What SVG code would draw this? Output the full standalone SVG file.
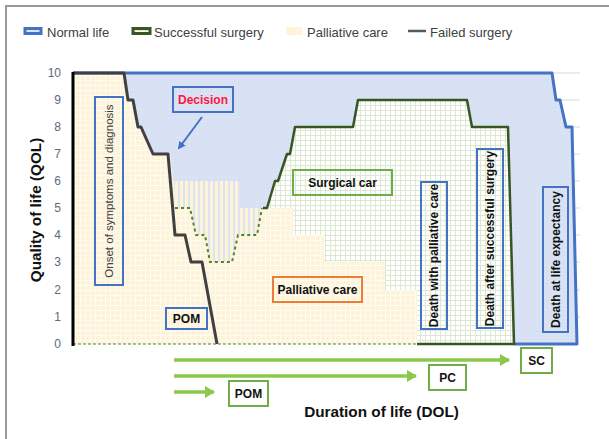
<svg xmlns="http://www.w3.org/2000/svg" width="609" height="439" viewBox="0 0 609 439">
<style>
  text { font-family: "Liberation Sans", Arial, sans-serif; }
  .leg { font-size: 13px; fill: #404040; }
  .tick { font-size: 12px; fill: #5b6b80; text-anchor: end; }
  .lbl { font-size: 12px; font-weight: bold; fill: #111; text-anchor: middle; dominant-baseline: central; }
  .axt { font-size: 15.3px; font-weight: bold; fill: #111; text-anchor: middle; }
  .bbox { fill: none; stroke: #4472C4; stroke-width: 2; }
  .gbox { fill: #fff; stroke: #70AD47; stroke-width: 2; }
  .grid { stroke: #D9D9D9; stroke-width: 1; }
  .garrow { stroke: #8CC84B; stroke-width: 3.5; fill: none; }
</style>
<defs>
  <pattern id="pBeige" width="5" height="5" patternUnits="userSpaceOnUse">
    <rect width="5" height="5" fill="#FCF3DA"/>
    <path d="M0,0.5 H5 M0.5,0 V5" stroke="#FFFBEF" stroke-width="1"/>
  </pattern>
  <pattern id="pGreen" width="5" height="5" patternUnits="userSpaceOnUse">
    <rect width="5" height="5" fill="#FFFFFF"/>
    <path d="M0,0.5 H5 M0.5,0 V5" stroke="#DCE8D2" stroke-width="1"/>
  </pattern>
  <pattern id="pBlue" width="4" height="4" patternUnits="userSpaceOnUse">
    <rect width="4" height="4" fill="#D7E1F3"/>
    <rect x="1" y="1" width="1" height="1" fill="#E6ECF8"/>
  </pattern>
  <pattern id="pStripe" width="5" height="5" patternUnits="userSpaceOnUse">
    <rect width="5" height="5" fill="#DCE4F3"/>
    <rect width="3" height="5" fill="#FDF4D8"/>
  </pattern>
  <marker id="mBlue" markerWidth="8" markerHeight="8" refX="6" refY="4" orient="auto" markerUnits="userSpaceOnUse">
    <path d="M0,0 L8,4 L0,8 Z" fill="#4472C4"/>
  </marker>
  <marker id="mGreen" markerWidth="10" markerHeight="12" refX="9" refY="6" orient="auto" markerUnits="userSpaceOnUse">
    <path d="M0,0 L10,6 L0,12 Z" fill="#8CC84B"/>
  </marker>
</defs>

<!-- frame -->
<g id="frame">
  <line x1="5" y1="6" x2="609" y2="6" stroke="#9A9A9A" stroke-width="2"/>
  <line x1="6" y1="5" x2="6" y2="439" stroke="#9A9A9A" stroke-width="2"/>
</g>

<!-- legend -->
<g id="legend">
  <rect x="25" y="28.5" width="16" height="5" fill="#DCE4F4" stroke="#4472C4" stroke-width="3"/>
  <text class="leg" x="47" y="37">Normal life</text>
  <rect x="133" y="28.5" width="17" height="5" fill="url(#pGreen)" stroke="#375623" stroke-width="3"/>
  <text class="leg" x="154" y="37">Successful surgery</text>
  <rect x="286" y="27" width="16" height="8" fill="#FFF4D6"/>
  <text class="leg" x="307" y="37">Palliative care</text>
  <line x1="408" y1="31" x2="426" y2="31" stroke="#595959" stroke-width="2.5"/>
  <text class="leg" x="430" y="37">Failed surgery</text>
</g>

<!-- grid -->
<g id="gridlines">
  <line class="grid" x1="73" y1="73" x2="580" y2="73"/>
  <line class="grid" x1="73" y1="100" x2="580" y2="100"/>
  <line class="grid" x1="73" y1="127" x2="580" y2="127"/>
  <line class="grid" x1="73" y1="154" x2="580" y2="154"/>
  <line class="grid" x1="73" y1="181" x2="580" y2="181"/>
  <line class="grid" x1="73" y1="208" x2="580" y2="208"/>
  <line class="grid" x1="73" y1="235" x2="580" y2="235"/>
  <line class="grid" x1="73" y1="262" x2="580" y2="262"/>
  <line class="grid" x1="73" y1="290" x2="580" y2="290"/>
  <line class="grid" x1="73" y1="317" x2="580" y2="317"/>
</g>

<!-- y ticks -->
<g id="yticks">
  <text class="tick" x="61" y="77">10</text>
  <text class="tick" x="61" y="104">9</text>
  <text class="tick" x="61" y="131">8</text>
  <text class="tick" x="61" y="158">7</text>
  <text class="tick" x="61" y="185">6</text>
  <text class="tick" x="61" y="212">5</text>
  <text class="tick" x="61" y="239">4</text>
  <text class="tick" x="61" y="266">3</text>
  <text class="tick" x="61" y="294">2</text>
  <text class="tick" x="61" y="321">1</text>
  <text class="tick" x="61" y="348">0</text>
</g>

<!-- areas -->
<g id="normal-life">
  <path d="M73,73 H552 L556,100 H560 L566,127 H572 L577,344 H73 Z" fill="url(#pBlue)"/>
</g>
<g id="successful-surgery">
  <path d="M263,208 H267 L275,181 H278 L287,154 H290 L295,127 H353 L358,100 H467 L472,127 H508 L514,344 H263 Z" fill="url(#pGreen)"/>
</g>
<g id="palliative-care">
  <path d="M73,73 H124 L128,100 H133 L138,127 H141 L153,154 H170 L173,181 H240 V208 H293 V235 H324 V262 H385 V290 H417 V344 H73 Z" fill="url(#pBeige)"/>
  <path d="M173,181 H240 V208 H262 L257,235 H238 L232,262 H210 L205,235 H196 L190,208 H175 L174,181 Z" fill="url(#pStripe)"/>
</g>

<!-- curves -->
<g id="connectors">
  <path d="M73,73 H552 L556,100 H560 L566,127 H572 L577,344 H514" fill="none" stroke="#4472C4" stroke-width="3" stroke-linejoin="round"/>
  <path d="M263,208 H267 L275,181 H278 L287,154 H290 L295,127 H353 L358,100 H467 L472,127 H508 L514,344 H417" fill="none" stroke="#375623" stroke-width="2.5" stroke-linejoin="round"/>
  <path d="M175,208 H190 L196,235 H205 L210,262 H232 L238,235 H257 L262,208" fill="none" stroke="#548235" stroke-width="2" stroke-dasharray="3,3"/>
  <line x1="73" y1="344" x2="417" y2="344" stroke="#548235" stroke-width="1.2" stroke-dasharray="3,2"/>
  <path d="M73,73 H124 L128,100 H133 L138,127 H141 L153,154 H168 L175,235 H185 L191,262 H202 L217,344" fill="none" stroke="#404040" stroke-width="3" stroke-linejoin="round"/>
  <line x1="73" y1="72" x2="73" y2="346" stroke="#000" stroke-width="3"/>
  <line x1="202" y1="117" x2="179" y2="148" stroke="#4472C4" stroke-width="2" marker-end="url(#mBlue)"/>
  <line class="garrow" x1="174" y1="360" x2="509" y2="360" marker-end="url(#mGreen)"/>
  <line class="garrow" x1="174" y1="376" x2="416" y2="376" marker-end="url(#mGreen)"/>
  <line class="garrow" x1="174" y1="392" x2="214" y2="392" marker-end="url(#mGreen)"/>
</g>

<!-- labels -->
<g id="decision">
  <rect class="bbox" x="173" y="87" width="60" height="25" fill="#D7E1F3"/>
  <text class="lbl" x="203" y="99.5" style="fill:#FF1744">Decision</text>
</g>
<g id="onset">
  <rect class="bbox" x="95" y="97" width="28" height="188"/>
  <text x="109" y="191" transform="rotate(-90 109 191)" text-anchor="middle" dominant-baseline="central" font-size="11.5" fill="#404040">Onset of symptoms and diagnosis</text>
</g>
<g id="surgical-care">
  <rect x="293" y="170" width="99" height="25" fill="none" stroke="#70AD47" stroke-width="2"/>
  <text class="lbl" x="342.5" y="182.5">Surgical car</text>
</g>
<g id="palliative-label">
  <rect x="273" y="277" width="89" height="25" fill="none" stroke="#ED7D31" stroke-width="2"/>
  <text class="lbl" x="317.5" y="289.5">Palliative care</text>
</g>
<g id="pom-chart">
  <rect class="bbox" x="166" y="308" width="41" height="21"/>
  <text class="lbl" x="186.5" y="318.5">POM</text>
</g>
<g id="death-palliative">
  <rect class="bbox" x="421" y="182" width="26" height="147"/>
  <text class="lbl" x="434" y="255.5" transform="rotate(-90 434 255.5)">Death with palliative care</text>
</g>
<g id="death-surgery">
  <rect class="bbox" x="477" y="149" width="26" height="179"/>
  <text class="lbl" x="490" y="238.5" transform="rotate(-90 490 238.5)">Death after successful surgery</text>
</g>
<g id="death-life">
  <rect class="bbox" x="543" y="187" width="25" height="145"/>
  <text class="lbl" x="555.5" y="259.5" transform="rotate(-90 555.5 259.5)">Death at life expectancy</text>
</g>
<g id="sc">
  <rect class="gbox" x="521" y="348" width="31" height="25"/>
  <text class="lbl" x="536.5" y="360.5">SC</text>
</g>
<g id="pc">
  <rect class="gbox" x="429" y="365" width="37" height="25"/>
  <text class="lbl" x="447.5" y="377.5">PC</text>
</g>
<g id="pom-bottom">
  <rect class="gbox" x="229" y="381" width="39" height="25"/>
  <text class="lbl" x="248.5" y="393.5">POM</text>
</g>

<!-- axis titles -->
<g id="axis-titles">
  <text class="axt" x="41" y="210" transform="rotate(-90 41 210)">Quality of life (QOL)</text>
  <text class="axt" x="381.5" y="417">Duration of life (DOL)</text>
</g>
</svg>
